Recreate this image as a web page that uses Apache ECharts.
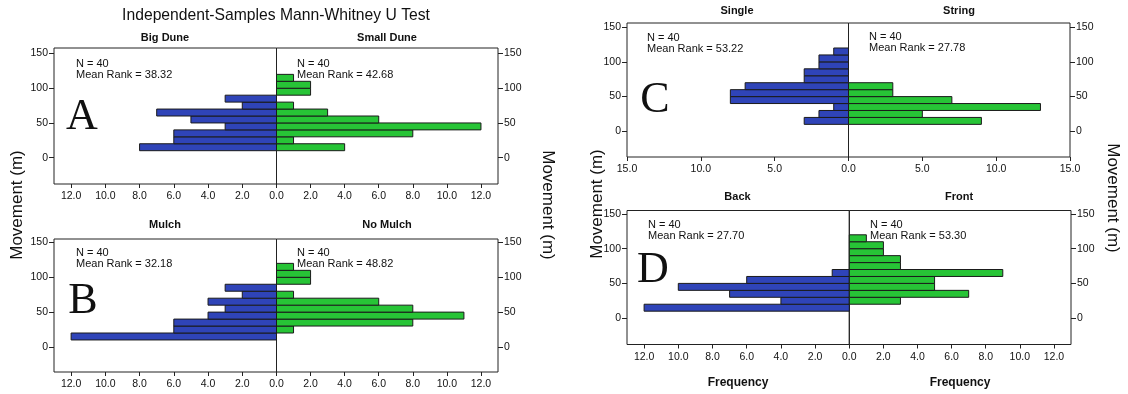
<!DOCTYPE html>
<html><head><meta charset="utf-8">
<script src="https://cdn.jsdelivr.net/npm/echarts@6/dist/echarts.min.js"></script>
<style>html,body{margin:0;padding:0;background:#fff}#c{width:1128px;height:394px}</style>
</head><body><div id="c"></div>
<script>
// ---- data ----
const binStarts = [10, 20, 30, 40, 50, 60, 70, 80, 90, 100, 110];
const binWidth = 10;
const bigDune   = [8, 6, 6, 3, 5, 7, 2, 3, 0, 0, 0];
const smallDune = [4, 1, 8, 12, 6, 3, 1, 0, 2, 2, 1];
const mulch     = [12, 6, 6, 4, 3, 4, 2, 3, 0, 0, 0];
const noMulch   = [0, 1, 8, 11, 8, 6, 1, 0, 2, 2, 1];
const single    = [3, 2, 1, 8, 8, 7, 3, 3, 2, 2, 1];
const string    = [9, 5, 13, 7, 3, 3, 0, 0, 0, 0, 0];
const back      = [12, 4, 7, 10, 6, 1, 0, 0, 0, 0, 0];
const front     = [0, 3, 7, 5, 5, 9, 3, 3, 2, 2, 1];
const groupNames = ['Big Dune', 'Small Dune', 'Mulch', 'No Mulch', 'Single', 'String', 'Back', 'Front'];
const meanRanks = ['38.32', '42.68', '32.18', '48.82', '53.22', '27.78', '27.70', '53.30'];
const nValues = [40, 40, 40, 40, 40, 40, 40, 40];
const yTicks = [0, 50, 100, 150];
const freqTicks12 = [0, 2, 4, 6, 8, 10, 12];
const freqTicks15 = [0, 5, 10, 15];
const panelLetters = ['A', 'B', 'C', 'D'];
const mainTitle = 'Independent-Samples Mann-Whitney U Test';
const yTitle = 'Movement (m)';
const xTitle = 'Frequency';

// ---- layout ----
const FONT = '"Liberation Sans", Arial, sans-serif';
const BLUE = '#2f44b8', GREEN = '#27c436', EDGE = '#1b1b1b', INK = '#111';
const panels = [
  {counts: [bigDune, smallDune], g: 0, box: [54, 48, 276.5, 498, 184], y: [-38, 158], xmax: 13, ticks: freqTicks12,
   letter: [82, 117], ann: [[76, 64], [297, 64]], sub: [[165, 38], [387, 38]]},
  {counts: [mulch, noMulch], g: 2, box: [54, 239, 276.5, 498, 372], y: [-36, 155], xmax: 13, ticks: freqTicks12,
   letter: [83, 301], ann: [[76, 252.5], [297, 252.5]], sub: [[165, 225], [387, 225]]},
  {counts: [single, string], g: 4, box: [627, 23, 848.5, 1070, 157], y: [-37, 156], xmax: 15, ticks: freqTicks15,
   letter: [655, 100], ann: [[647, 38], [869, 37]], sub: [[737, 11], [959, 11]]},
  {counts: [back, front], g: 6, box: [627, 210.5, 849.3, 1071, 344.5], y: [-38, 155], xmax: 13, ticks: freqTicks12,
   letter: [653, 270], ann: [[648, 224.5], [870, 224.5]], sub: [[737.5, 197], [959, 197]]}
];

const grid = [], xAxis = [], yAxis = [], series = [], graphic = [];
function txt(x, y, text, size, opts) {
  opts = opts || {};
  graphic.push({type: 'text', x: x, y: y, rotation: opts.rot || 0, silent: true,
    style: {text: text, fontSize: size, fontFamily: opts.family || FONT, fontWeight: opts.weight || 'normal',
      fill: INK, align: opts.align || 'center', verticalAlign: 'middle'}});
}
function renderBar(color) {
  return function (params, api) {
    const p0 = api.coord([0, api.value(1)]);
    const p1 = api.coord([api.value(0), api.value(2)]);
    return {type: 'rect',
      shape: {x: Math.min(p0[0], p1[0]), y: Math.min(p0[1], p1[1]), width: Math.abs(p1[0] - p0[0]), height: Math.abs(p1[1] - p0[1])},
      style: {fill: color, stroke: EDGE, lineWidth: 1}};
  };
}

panels.forEach((p, i) => {
  const [x0, y0, xm, x1, y1] = p.box;
  [0, 1].forEach(side => {
    const gi = grid.length;
    grid.push({left: side ? xm : x0, top: y0, width: side ? x1 - xm : xm - x0, height: y1 - y0,
      show: true, borderColor: '#222', borderWidth: 1, backgroundColor: 'transparent'});
    const labTicks = side ? p.ticks : p.ticks.filter(v => v > 0);
    xAxis.push({gridIndex: gi, type: 'value', min: 0, max: p.xmax, inverse: side === 0, position: 'bottom',
      axisLine: {show: false, onZero: false}, splitLine: {show: false},
      axisTick: {show: true, length: 4, customValues: labTicks, lineStyle: {color: '#222'}},
      axisLabel: {customValues: labTicks, formatter: v => v.toFixed(1), fontSize: 10.5, fontFamily: FONT, color: INK, margin: 7}});
    yAxis.push({gridIndex: gi, type: 'value', min: p.y[0], max: p.y[1], position: side ? 'right' : 'left',
      axisLine: {show: false, onZero: false}, splitLine: {show: false},
      axisTick: {show: true, length: 5, customValues: yTicks, lineStyle: {color: '#222'}},
      axisLabel: {customValues: yTicks, fontSize: 10.5, fontFamily: FONT, color: INK, margin: 6}});
    const counts = p.counts[side];
    series.push({type: 'custom', xAxisIndex: gi, yAxisIndex: gi, renderItem: renderBar(side ? GREEN : BLUE),
      encode: {x: 0, y: [1, 2]},
      data: counts.map((c, k) => [c, binStarts[k], binStarts[k] + binWidth]).filter(d => d[0] > 0)});
    const g = p.g + side;
    txt(p.sub[side][0], p.sub[side][1], groupNames[g], 11, {weight: 'bold'});
    txt(p.ann[side][0], p.ann[side][1], 'N = ' + nValues[g], 11, {align: 'left'});
    txt(p.ann[side][0], p.ann[side][1] + 11, 'Mean Rank = ' + meanRanks[g], 11, {align: 'left'});
  });
  txt(p.letter[0], p.letter[1], panelLetters[i], 44, {family: '"Liberation Serif", "Times New Roman", serif'});
});

txt(276, 16, mainTitle, 15.7);
txt(17, 205, yTitle, 17, {rot: Math.PI / 2});
txt(548, 205, yTitle, 17, {rot: -Math.PI / 2});
txt(597, 204, yTitle, 17, {rot: Math.PI / 2});
txt(1113, 198, yTitle, 17, {rot: -Math.PI / 2});
txt(738, 383, xTitle, 12, {weight: 'bold'});
txt(960, 383, xTitle, 12, {weight: 'bold'});

const chart = echarts.init(document.getElementById('c'), null, {renderer: 'canvas'});
chart.setOption({animation: false, backgroundColor: '#fff', grid, xAxis, yAxis, series, graphic});
</script></body></html>
